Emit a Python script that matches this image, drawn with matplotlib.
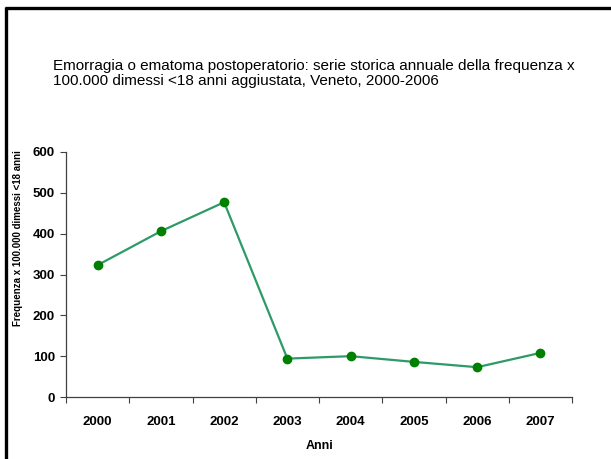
import matplotlib
matplotlib.use("Agg")
import matplotlib.pyplot as plt
from matplotlib.lines import Line2D
import numpy as np

plt.rcParams['font.family'] = ['Liberation Sans', 'DejaVu Sans']

anni = ['2000', '2001', '2002', '2003', '2004', '2005', '2006', '2007']
frequenza = [323, 406, 477, 94, 100, 86, 73, 108]

titolo = ("Emorragia o ematoma postoperatorio: serie storica annuale della frequenza x\n"
          "100.000 dimessi <18 anni aggiustata, Veneto, 2000-2006")

W, H = 611, 459
fig = plt.figure(figsize=(W / 100, H / 100), dpi=100)
ax = fig.add_axes([66 / W, 1 - 397 / H, 506 / W, 245 / H])

x = np.arange(len(anni))
ax.plot(x, frequenza, color='#2e9a68', lw=1.6, marker='o', ms=6,
        mfc='#008000', mec='#008000', zorder=3)

ax.set_xlim(-0.5, len(anni) - 0.5)
ax.set_ylim(0, 600)
ax.set_yticks(np.arange(0, 601, 100))

# tick marks sit between the categories, labels at the centres
ax.set_xticks(np.arange(-0.5, len(anni), 1.0))
ax.set_xticklabels([])
ax.set_xticks(x, minor=True)
ax.set_xticklabels(anni, minor=True, fontweight='bold', fontsize=9.5)
ax.tick_params(axis='x', which='minor', length=0, pad=14)
ax.tick_params(axis='x', which='major', length=4, direction='out', color='#404040')
ax.tick_params(axis='y', length=4, direction='out', color='#404040', pad=4)
for t in ax.get_yticklabels():
    t.set_fontweight('bold')
    t.set_fontsize(9.5)

for s in ['top', 'right']:
    ax.spines[s].set_visible(False)
for s in ['left', 'bottom']:
    ax.spines[s].set_color('#404040')
    ax.spines[s].set_linewidth(0.9)

fig.text(320 / W, 1 - 446 / H, 'Anni', ha='center', va='center',
         fontweight='bold', fontsize=9)
fig.text(18 / W, 1 - 238 / H, 'Frequenza x 100.000 dimessi <18 anni', rotation=90,
         ha='center', va='center', fontsize=7, fontweight='bold')

fig.text(53 / W, 1 - 59 / H, titolo, ha='left', va='top', fontsize=11, linespacing=1.05)

# frame lines along the top and left edge
fig.add_artist(Line2D([5 / W, 1], [1 - 8 / H, 1 - 8 / H], color='black', lw=2.4,
                      solid_capstyle='butt', transform=fig.transFigure))
fig.add_artist(Line2D([6 / W, 6 / W], [0, 1 - 7 / H], color='black', lw=2.4,
                      solid_capstyle='butt', transform=fig.transFigure))

fig.savefig('out.png', dpi=100)
